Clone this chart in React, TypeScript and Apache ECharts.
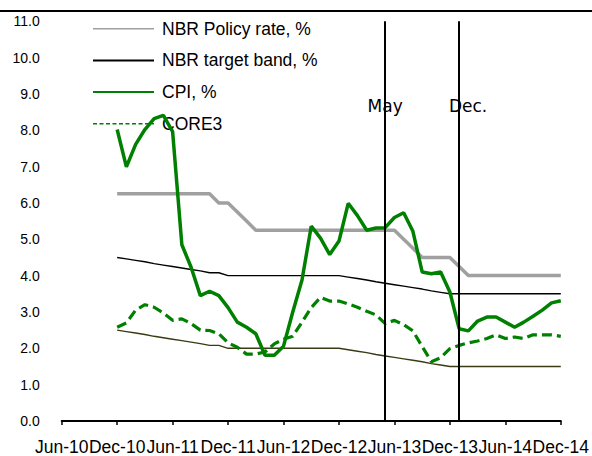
import React, { useEffect, useRef } from "react";
import * as echarts from "echarts";

// x positions are months counted from Jun-10 (= 0); data start at Dec-10 (= 6)
const tickLabels = ["Jun-10", "Dec-10", "Jun-11", "Dec-11", "Jun-12", "Dec-12", "Jun-13", "Dec-13", "Jun-14", "Dec-14"];
const firstMonth = 6;

const policyRate = [
  6.25, 6.25, 6.25, 6.25, 6.25, 6.25, 6.25, 6.25, 6.25, 6.25, 6.25,
  6.0, 6.0, 5.75, 5.5,
  5.25, 5.25, 5.25, 5.25, 5.25, 5.25, 5.25, 5.25, 5.25, 5.25, 5.25, 5.25, 5.25, 5.25, 5.25, 5.25,
  5.0, 4.75, 4.5, 4.5, 4.5, 4.5, 4.25,
  4.0, 4.0, 4.0, 4.0, 4.0, 4.0, 4.0, 4.0, 4.0, 4.0, 4.0,
];

const bandUpper = [
  4.5, 4.46, 4.42, 4.38, 4.33, 4.29, 4.25, 4.21, 4.17, 4.13, 4.08, 4.08,
  4.0, 4.0, 4.0, 4.0, 4.0, 4.0, 4.0, 4.0, 4.0, 4.0, 4.0, 4.0, 4.0,
  3.96, 3.92, 3.88, 3.83, 3.79, 3.75, 3.71, 3.67, 3.63, 3.58, 3.54, 3.5,
  3.5, 3.5, 3.5, 3.5, 3.5, 3.5, 3.5, 3.5, 3.5, 3.5, 3.5, 3.5,
];

const bandLower = [
  2.5, 2.46, 2.42, 2.38, 2.33, 2.29, 2.25, 2.21, 2.17, 2.13, 2.08, 2.08,
  2.0, 2.0, 2.0, 2.0, 2.0, 2.0, 2.0, 2.0, 2.0, 2.0, 2.0, 2.0, 2.0,
  1.96, 1.92, 1.88, 1.83, 1.79, 1.75, 1.71, 1.67, 1.63, 1.58, 1.54, 1.5,
  1.5, 1.5, 1.5, 1.5, 1.5, 1.5, 1.5, 1.5, 1.5, 1.5, 1.5, 1.5,
];

const cpi = [
  8.02, 6.99, 7.61, 8.02, 8.32, 8.41, 7.96,
  4.85, 4.23, 3.45, 3.57, 3.45, 3.12,
  2.72, 2.58, 2.4, 1.81, 1.81, 2.06,
  3.0, 3.88, 5.36, 5.03, 4.58, 4.95,
  5.99, 5.65, 5.25, 5.31, 5.32, 5.6,
  5.73, 5.22, 4.1, 4.05, 4.1, 3.55,
  2.54, 2.48, 2.75, 2.86, 2.86, 2.72,
  2.58, 2.72, 2.88, 3.05, 3.25, 3.31,
];

const core3 = [
  2.58, 2.7, 3.05, 3.2, 3.13, 2.97, 2.77,
  2.81, 2.68, 2.5, 2.49, 2.4, 2.15,
  2.03, 1.84, 1.84, 1.9, 2.12, 2.25,
  2.33, 2.72, 3.12, 3.4, 3.3, 3.3,
  3.22, 3.13, 3.02, 2.92, 2.68, 2.77,
  2.65, 2.48, 2.05, 1.63, 1.74, 1.99,
  2.08, 2.15, 2.2, 2.27, 2.37, 2.27,
  2.31, 2.27, 2.37, 2.37, 2.37, 2.33,
];

const eventMonths = [35, 43];
const eventLabels = ["May", "Dec."];
const eventLabelLevel = 8.68;

const toPairs = (vals: number[]) => vals.map((v, i) => [firstMonth + i, v]);

const NAME_POLICY = "NBR Policy rate, %";
const NAME_BAND = "NBR target band, %";
const NAME_CPI = "CPI, %";
const NAME_CORE = "CORE3";

export default function App() {
  const ref = useRef<HTMLDivElement>(null);
  useEffect(() => {
    if (!ref.current) return;
    const chart = echarts.init(ref.current, undefined, { renderer: "svg" });
    const green = "#008000";
    const hiddenSymbol = { opacity: 0, color: "rgba(0,0,0,0)", borderWidth: 0 };
    chart.setOption({
      animation: false,
      backgroundColor: "#ffffff",
      textStyle: { fontFamily: "'Liberation Sans', Arial, sans-serif" },
      grid: { left: 61.7, right: 30.3, top: 21.2, bottom: 33.3 },
      graphic: [
        {
          type: "line",
          shape: { x1: 0, y1: 11, x2: 592, y2: 11 },
          style: { stroke: "#000", lineWidth: 2 },
        },
      ],
      legend: {
        orient: "vertical",
        left: 92,
        top: 19.7,
        padding: 0,
        itemWidth: 61,
        itemHeight: 14,
        itemGap: 13.7,
        selectedMode: false,
        itemStyle: hiddenSymbol,
        textStyle: {
          fontFamily: "'Liberation Sans', Arial, sans-serif",
          fontSize: 17.5,
          color: "#000",
          padding: [0, 0, 0, 3],
        },
        data: [
          { name: NAME_POLICY, itemStyle: hiddenSymbol, lineStyle: { width: 1.5 } },
          { name: NAME_BAND, itemStyle: hiddenSymbol, lineStyle: { width: 2 } },
          { name: NAME_CPI, itemStyle: hiddenSymbol, lineStyle: { width: 2 } },
          { name: NAME_CORE, itemStyle: hiddenSymbol, lineStyle: { width: 1.5, type: [4, 2.5] } },
        ],
      },
      xAxis: {
        type: "value",
        min: 0,
        max: 54,
        interval: 6,
        axisLine: { show: true, lineStyle: { color: "#000", width: 2 } },
        axisTick: { show: true, length: 4, lineStyle: { color: "#000", width: 1.5 } },
        splitLine: { show: false },
        axisLabel: {
          color: "#000",
          fontSize: 17.5,
          margin: 17,
          showMinLabel: true,
          showMaxLabel: true,
          formatter: (v: number) => tickLabels[Math.round(v / 6)] ?? "",
        },
      },
      yAxis: {
        type: "value",
        min: 0,
        max: 11,
        interval: 1,
        axisLine: { show: false },
        axisTick: { show: false },
        splitLine: { show: false },
        axisLabel: {
          color: "#000",
          fontSize: 14,
          margin: 22,
          formatter: (v: number) => v.toFixed(1),
        },
      },
      series: [
        {
          name: NAME_POLICY,
          type: "line",
          symbol: "none",
          data: toPairs(policyRate),
          lineStyle: { color: "#a0a0a0", width: 3.5 },
          itemStyle: { color: "#a0a0a0" },
          z: 2,
        },
        {
          name: NAME_BAND,
          type: "line",
          symbol: "none",
          data: toPairs(bandUpper),
          lineStyle: { color: "#000", width: 1.4 },
          itemStyle: { color: "#000" },
          z: 2,
        },
        {
          name: NAME_BAND,
          type: "line",
          symbol: "none",
          data: toPairs(bandLower),
          lineStyle: { color: "#3a3a14", width: 1.4 },
          itemStyle: { color: "#3a3a14" },
          z: 2,
        },
        {
          name: NAME_CORE,
          type: "line",
          symbol: "none",
          data: toPairs(core3),
          lineStyle: { color: green, width: 3.2, type: [10, 5] },
          itemStyle: { color: green },
          z: 3,
          markLine: {
            silent: true,
            symbol: "none",
            label: { show: false },
            lineStyle: { color: "#000", width: 2, type: "solid" },
            data: eventMonths.map((m) => ({ xAxis: m })),
          },
          markPoint: {
            silent: true,
            symbol: "circle",
            symbolSize: 0,
            label: {
              show: true,
              position: "inside",
              color: "#000",
              fontFamily: "'DejaVu Sans', sans-serif",
              fontSize: 17,
              formatter: (p: any) => p.name,
            },
            data: eventMonths.map((m, i) => ({
              name: eventLabels[i],
              coord: [m, eventLabelLevel],
              label: { offset: [i === 1 ? 9 : 0, 0] },
            })),
          },
        },
        {
          name: NAME_CPI,
          type: "line",
          symbol: "none",
          data: toPairs(cpi),
          lineStyle: { color: green, width: 3.5 },
          itemStyle: { color: green },
          z: 4,
        },
      ],
    });
    return () => chart.dispose();
  }, []);
  return (
    <div
      ref={ref}
      style={{ position: "absolute", left: 0, top: 0, width: 592, height: 456 }}
    />
  );
}
